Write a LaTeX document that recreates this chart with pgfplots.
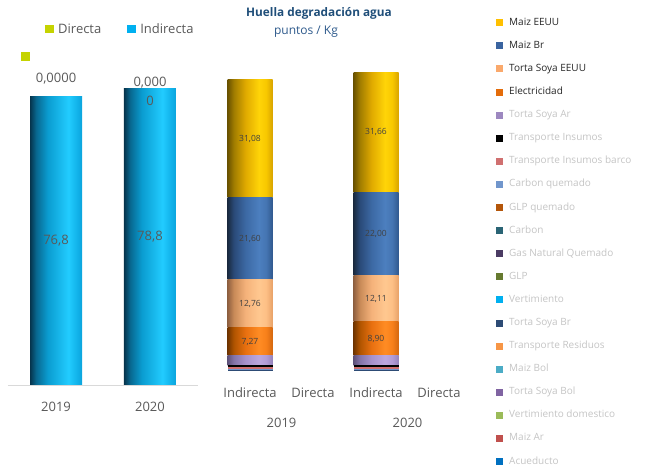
\documentclass[border=0pt]{standalone}
\usepackage{fontspec}
\setmainfont{Open Sans}
\usepackage{pgfplots}
\pgfplotsset{compat=1.18}

\definecolor{txt}{HTML}{595959}
\definecolor{lbl}{HTML}{404040}
\definecolor{legdark}{HTML}{262626}
\definecolor{leggray}{HTML}{C4C4C4}
\definecolor{ttl}{HTML}{1F4E79}
\definecolor{subttl}{HTML}{2E5A8C}
\definecolor{directa}{HTML}{C5D300}
\definecolor{indirecta}{HTML}{00B0F0}
\definecolor{cMaizEEUU}{HTML}{FFC000}
\definecolor{cMaizBr}{HTML}{3A64A0}
\definecolor{cTSEEUU}{HTML}{FAA96C}
\definecolor{cElec}{HTML}{E46C0A}
\definecolor{cTSAr}{HTML}{9D88C0}
\definecolor{cTI}{HTML}{000000}
\definecolor{cTIB}{HTML}{D07070}
\definecolor{cCarbQ}{HTML}{7196CC}
\definecolor{cGLPQ}{HTML}{B4560A}
\definecolor{cCarb}{HTML}{2A6475}
\definecolor{cGNQ}{HTML}{4B3B63}
\definecolor{cGLP}{HTML}{667A30}
\definecolor{cVert}{HTML}{00B0F0}
\definecolor{cTSBr}{HTML}{2D4B75}
\definecolor{cTR}{HTML}{F79646}
\definecolor{cMaizBol}{HTML}{4BACC6}
\definecolor{cTSBol}{HTML}{8064A2}
\definecolor{cVD}{HTML}{9BBB59}
\definecolor{cMaizAr}{HTML}{C0504D}
\definecolor{cAcu}{HTML}{0070C0}

% cylinder shading colours
\definecolor{ca1}{HTML}{06344C}\definecolor{ca2}{HTML}{086890}\definecolor{ca3}{HTML}{0A9CD0}
\definecolor{ca4}{HTML}{22CCFF}\definecolor{ca5}{HTML}{10B0E8}\definecolor{ca6}{HTML}{0CA4DC}
\definecolor{cy1}{HTML}{6A5200}\definecolor{cy2}{HTML}{A07C00}\definecolor{cy3}{HTML}{E0AA00}
\definecolor{cy4}{HTML}{FFD408}\definecolor{cy5}{HTML}{F8C800}\definecolor{cy6}{HTML}{D8A400}
\definecolor{cb1}{HTML}{1A2A40}\definecolor{cb2}{HTML}{2A4A78}\definecolor{cb3}{HTML}{3C69A4}
\definecolor{cb4}{HTML}{4C7FBF}\definecolor{cb5}{HTML}{4575B2}\definecolor{cb6}{HTML}{30598F}
\definecolor{cp1}{HTML}{8F6040}\definecolor{cp2}{HTML}{C88A58}\definecolor{cp3}{HTML}{F5B27A}
\definecolor{cp4}{HTML}{FFC890}\definecolor{cp5}{HTML}{FDBF85}\definecolor{cp6}{HTML}{E8A268}
\definecolor{co1}{HTML}{703400}\definecolor{co2}{HTML}{B05400}\definecolor{co3}{HTML}{E87010}
\definecolor{co4}{HTML}{FF8C24}\definecolor{co5}{HTML}{F8801A}\definecolor{co6}{HTML}{D46810}
\definecolor{cu1}{HTML}{5E527A}\definecolor{cu2}{HTML}{8474A8}\definecolor{cu3}{HTML}{A692CC}
\definecolor{cu4}{HTML}{BCA8DE}\definecolor{cu5}{HTML}{B29CD6}\definecolor{cu6}{HTML}{9584BC}

\pgfdeclarehorizontalshading{cylcyan}{100bp}{color(0bp)=(ca1); color(25bp)=(ca1); color(31bp)=(ca2); color(42bp)=(ca3); color(62bp)=(ca4); color(71bp)=(ca5); color(75bp)=(ca6); color(100bp)=(ca6)}
\pgfdeclarehorizontalshading{cylyellow}{100bp}{color(0bp)=(cy1); color(25bp)=(cy1); color(32bp)=(cy2); color(45bp)=(cy3); color(60bp)=(cy4); color(68bp)=(cy5); color(75bp)=(cy6); color(100bp)=(cy6)}
\pgfdeclarehorizontalshading{cylblue}{100bp}{color(0bp)=(cb1); color(25bp)=(cb1); color(32bp)=(cb2); color(45bp)=(cb3); color(60bp)=(cb4); color(68bp)=(cb5); color(75bp)=(cb6); color(100bp)=(cb6)}
\pgfdeclarehorizontalshading{cylpeach}{100bp}{color(0bp)=(cp1); color(25bp)=(cp1); color(32bp)=(cp2); color(45bp)=(cp3); color(60bp)=(cp4); color(68bp)=(cp5); color(75bp)=(cp6); color(100bp)=(cp6)}
\pgfdeclarehorizontalshading{cylorange}{100bp}{color(0bp)=(co1); color(25bp)=(co1); color(32bp)=(co2); color(45bp)=(co3); color(60bp)=(co4); color(68bp)=(co5); color(75bp)=(co6); color(100bp)=(co6)}
\pgfdeclarehorizontalshading{cylpurple}{100bp}{color(0bp)=(cu1); color(25bp)=(cu1); color(32bp)=(cu2); color(45bp)=(cu3); color(60bp)=(cu4); color(68bp)=(cu5); color(75bp)=(cu6); color(100bp)=(cu6)}

\protected\def\twoline{0,000\\0}
\newcommand\bigf{\fontsize{13}{15}\selectfont}

\pgfplotsset{
  leftax/.style={
    at={(8pt,85pt)}, anchor=south west,
    scale only axis, width=190pt, height=338.4pt,
    xmin=-0.511, xmax=1.511, ymin=0, ymax=90,
    ybar stacked, bar width=52pt, stacked ignores zero=false,
  },
  midax/.style={
    at={(218.5pt,99pt)}, anchor=south west,
    scale only axis, width=252pt, height=303.2pt,
    xmin=-0.5, xmax=3.5, ymin=0, ymax=80,
    ybar stacked, bar width=45pt,
  },
  lab/.style={point meta=explicit symbolic, nodes near coords={\pgfplotspointmeta},
    every node near coord/.append style={anchor=center,
      font=\fontsize{8.5}{10}\selectfont, text=lbl}},
}

\begin{document}
\begin{tikzpicture}
\useasboundingbox (0,0) rectangle (648pt,470pt);

% ---------------- left chart: 2019 bar, axis line, ticks, legend ----------------
\begin{axis}[leftax,
  axis x line*=bottom, axis y line=none,
  x axis line style={-, draw=black!15, line width=0.8pt},
  xtick={0,1}, xticklabels={2019,2020}, major tick length=0pt,
  xticklabel style={anchor=center, yshift=-22pt, font=\bigf, text=txt},
  legend image code/.code={\fill[#1,draw=none] (0pt,-4pt) rectangle (9pt,4pt);},
  legend columns=2,
  legend style={at={(axis description cs:0.1947,1.052)}, anchor=west,
    draw=none, fill=none, inner sep=0pt, font=\bigf,
    nodes={inner sep=0pt, text=txt},
    /tikz/every odd column/.style={column sep=4pt},
    /tikz/every even column/.style={column sep=26pt}},
]
\addlegendimage{fill=directa}\addlegendentry{Directa}
\addlegendimage{fill=indirecta}\addlegendentry{Indirecta}
\addplot[draw=none, shade, shading=cylcyan,
  point meta=explicit symbolic, nodes near coords={\pgfplotspointmeta},
  every node near coord/.append style={anchor=center, font=\bigf, text=txt}]
  coordinates {(0,76.8) [76,8]};
\addplot[draw=none, fill=directa,
  point meta=explicit symbolic, nodes near coords={\pgfplotspointmeta},
  every node near coord/.append style={anchor=center, yshift=17.5pt, font=\bigf, text=txt}]
  coordinates {(0,0) [0,0000]};
\end{axis}

% ---------------- left chart: 2020 bar ----------------
\begin{axis}[leftax, hide axis]
\addplot[draw=none, shade, shading=cylcyan,
  point meta=explicit symbolic, nodes near coords={\pgfplotspointmeta},
  every node near coord/.append style={anchor=center, font=\bigf, text=txt}]
  coordinates {(1,78.8) [78,8]};
\addplot[draw=none, fill=directa,
  point meta=explicit symbolic, nodes near coords={\pgfplotspointmeta},
  every node near coord/.append style={anchor=center, yshift=-2.25pt, align=center, font=\fontsize{13}{19}\selectfont, text=txt}]
  coordinates {(1,0) [\twoline]};
\end{axis}

% stray legend marker
\begin{axis}[
  at={(21pt,408pt)}, anchor=south west, scale only axis, width=9pt, height=9pt,
  hide axis, xmin=0, xmax=1, ymin=0, ymax=1,
  legend image code/.code={\fill[#1,draw=none] (0pt,0pt) rectangle (9pt,9pt);},
  legend style={at={(axis description cs:0,0)}, anchor=south west, draw=none, fill=none, inner sep=0pt, nodes={inner sep=0pt}},
]
\addlegendimage{fill=directa}\addlegendentry{}
\end{axis}

% ---------------- middle chart: 2019 stack, ticks, legend ----------------
\begin{axis}[midax,
  axis x line*=bottom, axis y line=none,
  x axis line style={draw=none},
  xtick={0,1,2,3}, xticklabels={Indirecta,Directa,Indirecta,Directa},
  major tick length=0pt,
  xticklabel style={anchor=center, yshift=-22pt, font=\bigf, text=txt},
  extra x ticks={0.5,2.5}, extra x tick labels={2019,2020},
  extra x tick style={xticklabel style={yshift=-30pt}},
  legend image code/.code={\fill[#1,draw=none] (0pt,-3.5pt) rectangle (7pt,3.5pt);},
  legend cell align=left,
  legend style={at={(axis description cs:1.1012,1.1659)}, anchor=north west,
    draw=none, fill=none, inner sep=0pt, font=\fontsize{10}{12}\selectfont,
    nodes={inner sep=0pt, text height=7.5pt, text depth=2.5pt}, row sep=13.1pt,
    /tikz/every odd column/.style={column sep=6pt}},
]
\addlegendimage{fill=cMaizEEUU}\addlegendentry{\textcolor{legdark}{Maiz EEUU}}
\addlegendimage{fill=cMaizBr}\addlegendentry{\textcolor{legdark}{Maiz Br}}
\addlegendimage{fill=cTSEEUU}\addlegendentry{\textcolor{legdark}{Torta Soya EEUU}}
\addlegendimage{fill=cElec}\addlegendentry{\textcolor{legdark}{Electricidad}}
\addlegendimage{fill=cTSAr}\addlegendentry{\textcolor{leggray}{Torta Soya Ar}}
\addlegendimage{fill=cTI}\addlegendentry{\textcolor{leggray}{Transporte Insumos}}
\addlegendimage{fill=cTIB}\addlegendentry{\textcolor{leggray}{Transporte Insumos barco}}
\addlegendimage{fill=cCarbQ}\addlegendentry{\textcolor{leggray}{Carbon quemado}}
\addlegendimage{fill=cGLPQ}\addlegendentry{\textcolor{leggray}{GLP quemado}}
\addlegendimage{fill=cCarb}\addlegendentry{\textcolor{leggray}{Carbon}}
\addlegendimage{fill=cGNQ}\addlegendentry{\textcolor{leggray}{Gas Natural Quemado}}
\addlegendimage{fill=cGLP}\addlegendentry{\textcolor{leggray}{GLP}}
\addlegendimage{fill=cVert}\addlegendentry{\textcolor{leggray}{Vertimiento}}
\addlegendimage{fill=cTSBr}\addlegendentry{\textcolor{leggray}{Torta Soya Br}}
\addlegendimage{fill=cTR}\addlegendentry{\textcolor{leggray}{Transporte Residuos}}
\addlegendimage{fill=cMaizBol}\addlegendentry{\textcolor{leggray}{Maiz Bol}}
\addlegendimage{fill=cTSBol}\addlegendentry{\textcolor{leggray}{Torta Soya Bol}}
\addlegendimage{fill=cVD}\addlegendentry{\textcolor{leggray}{Vertimiento domestico}}
\addlegendimage{fill=cMaizAr}\addlegendentry{\textcolor{leggray}{Maiz Ar}}
\addlegendimage{fill=cAcu}\addlegendentry{\textcolor{leggray}{Acueducto}}

% 2019 Indirecta, stacked from bottom to top
\addplot[draw=none, fill=cAcu]     coordinates {(0,0.01)};
\addplot[draw=none, fill=cMaizAr]  coordinates {(0,0.01)};
\addplot[draw=none, fill=cVD]      coordinates {(0,0.01)};
\addplot[draw=none, fill=cTSBol]   coordinates {(0,0.02)};
\addplot[draw=none, fill=cMaizBol] coordinates {(0,0.02)};
\addplot[draw=none, fill=cTR]      coordinates {(0,0.03)};
\addplot[draw=none, fill=cTSBr]    coordinates {(0,0.05)};
\addplot[draw=none, fill=cVert]    coordinates {(0,0)};
\addplot[draw=none, fill=cGLP]     coordinates {(0,0.04)};
\addplot[draw=none, fill=cGNQ]     coordinates {(0,0.05)};
\addplot[draw=none, fill=cCarb]    coordinates {(0,0.05)};
\addplot[draw=none, fill=cGLPQ]    coordinates {(0,0.10)};
\addplot[draw=none, fill=cCarbQ]   coordinates {(0,0.10)};
\addplot[draw=none, fill=cTIB]     coordinates {(0,0.45)};
\addplot[draw=none, fill=cTI]      coordinates {(0,0.55)};
\addplot[draw=none, shade, shading=cylpurple] coordinates {(0,2.60)};
\addplot[draw=none, shade, shading=cylorange, lab] coordinates {(0,7.27) [7,27]};
\addplot[draw=none, shade, shading=cylpeach, lab]  coordinates {(0,12.76) [12,76]};
\addplot[draw=none, shade, shading=cylblue, lab]   coordinates {(0,21.60) [21,60]};
\addplot[draw=none, shade, shading=cylyellow, lab] coordinates {(0,31.08) [31,08]};
\end{axis}

% ---------------- middle chart: 2020 stack ----------------
\begin{axis}[midax, hide axis]
\addplot[draw=none, fill=cAcu]     coordinates {(2,0.01)};
\addplot[draw=none, fill=cMaizAr]  coordinates {(2,0.01)};
\addplot[draw=none, fill=cVD]      coordinates {(2,0.01)};
\addplot[draw=none, fill=cTSBol]   coordinates {(2,0.02)};
\addplot[draw=none, fill=cMaizBol] coordinates {(2,0.02)};
\addplot[draw=none, fill=cTR]      coordinates {(2,0.03)};
\addplot[draw=none, fill=cTSBr]    coordinates {(2,0.05)};
\addplot[draw=none, fill=cVert]    coordinates {(2,0)};
\addplot[draw=none, fill=cGLP]     coordinates {(2,0.04)};
\addplot[draw=none, fill=cGNQ]     coordinates {(2,0.05)};
\addplot[draw=none, fill=cCarb]    coordinates {(2,0.05)};
\addplot[draw=none, fill=cGLPQ]    coordinates {(2,0.10)};
\addplot[draw=none, fill=cCarbQ]   coordinates {(2,0.10)};
\addplot[draw=none, fill=cTIB]     coordinates {(2,0.50)};
\addplot[draw=none, fill=cTI]      coordinates {(2,0.55)};
\addplot[draw=none, shade, shading=cylpurple] coordinates {(2,2.59)};
\addplot[draw=none, shade, shading=cylorange, lab] coordinates {(2,8.90) [8,90]};
\addplot[draw=none, shade, shading=cylpeach, lab]  coordinates {(2,12.11) [12,11]};
\addplot[draw=none, shade, shading=cylblue, lab]   coordinates {(2,22.00) [22,00]};
\addplot[draw=none, shade, shading=cylyellow, lab] coordinates {(2,31.66) [31,66]};
\end{axis}

\node[font=\bfseries\fontsize{11.8}{13}\selectfont, text=ttl] at (319pt,457pt) {Huella degradación agua};
\node[font=\fontsize{12}{13}\selectfont, text=subttl] at (306pt,438pt) {puntos / Kg};
\end{tikzpicture}
\end{document}
